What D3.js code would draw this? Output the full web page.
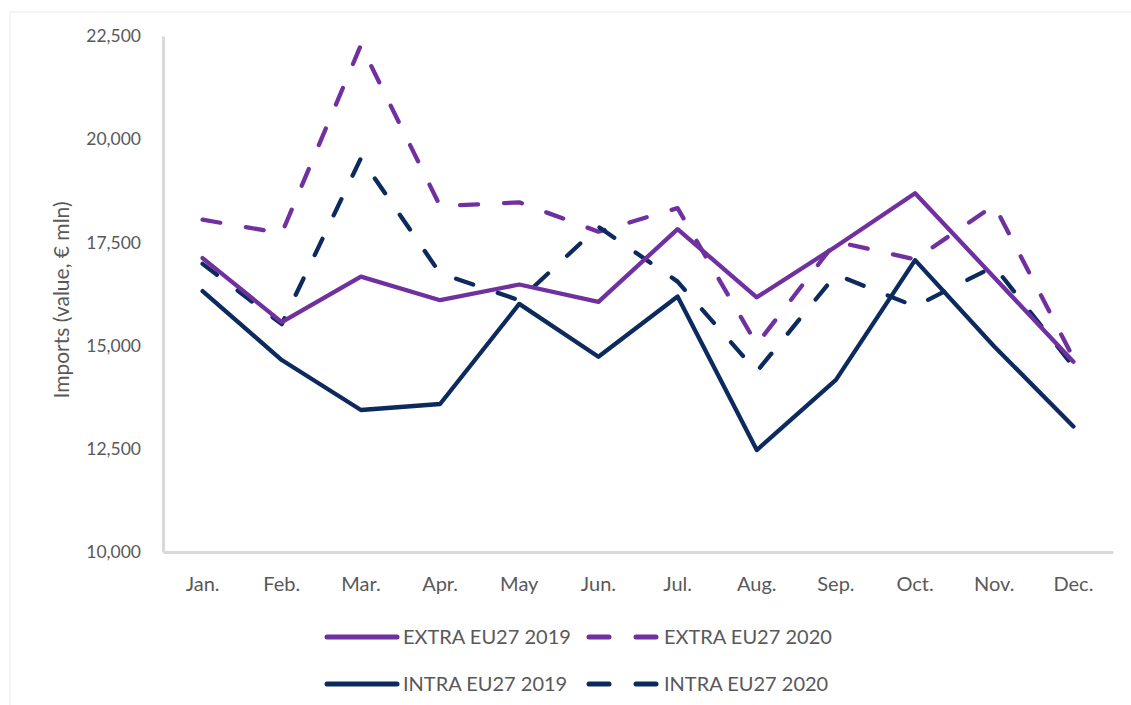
<!DOCTYPE html>
<html>
<head>
<meta charset="utf-8">
<script src="https://cdn.jsdelivr.net/npm/d3@7"></script>
<style>
  body { margin: 0; background: #fff; }
  svg { display: block; }
  text { font-family: Lato, "Open Sans", sans-serif; fill: #595959; }
</style>
</head>
<body>
<div class="chart"></div>
<script>
// months and monthly imports (value, EUR mln)
var months = ["Jan.", "Feb.", "Mar.", "Apr.", "May", "Jun.", "Jul.", "Aug.", "Sep.", "Oct.", "Nov.", "Dec."];
var extra2019 = [17120, 15570, 16670, 16100, 16480, 16060, 17820, 16170, 17400, 18690, 16650, 14610];
var extra2020 = [18050, 17720, 22280, 18380, 18470, 17760, 18330, 15030, 17520, 17090, 18400, 14700];
var intra2019 = [16320, 14650, 13440, 13585, 16010, 14730, 16190, 12470, 14170, 17070, 14980, 13040];
var intra2020 = [16980, 15520, 19540, 16750, 16100, 17880, 16550, 14370, 16720, 15950, 16920, 14490];
var yTicks = [10000, 12500, 15000, 17500, 20000, 22500];

var purple = "#7030a0", navy = "#0c2a5e";

var series = [
    { name: "EXTRA EU27 2019", values: extra2019, color: purple, dash: null },
    { name: "EXTRA EU27 2020", values: extra2020, color: purple, dash: "18,26" },
    { name: "INTRA EU27 2019", values: intra2019, color: navy, dash: null },
    { name: "INTRA EU27 2020", values: intra2020, color: navy, dash: "18,26" }
];

var W = 1131, H = 705;
var margin = { top: 36, right: 18, bottom: 153, left: 163 },
    width = W - margin.left - margin.right,
    height = H - margin.top - margin.bottom;

var root = d3.select(".chart")
    .append("svg")
    .attr("width", W)
    .attr("height", H);

// chart frame (only top/left edges are inside the picture)
root.append("rect")
    .attr("x", 10).attr("y", 12)
    .attr("width", W + 20).attr("height", H + 20)
    .attr("fill", "none")
    .attr("stroke", "#ebebeb")
    .attr("stroke-width", 1);

var svg = root.append("g")
    .attr("transform", "translate(" + margin.left + "," + margin.top + ")");

var x = d3.scaleBand()
    .domain(months)
    .range([0, width])
    .padding(0);

var y = d3.scaleLinear()
    .domain([10000, 22500])
    .range([height, 0]);

// y axis
var yAxis = svg.append("g")
    .call(d3.axisLeft(y).tickValues(yTicks).tickFormat(d3.format(",")).tickSize(0).tickPadding(22));
yAxis.select(".domain").attr("stroke", "#d9d9d9").attr("stroke-width", 3);
yAxis.selectAll("text")
    .style("font-size", "17.5px")
    .style("fill", "#595959");

// x axis
var xAxis = svg.append("g")
    .attr("transform", "translate(0," + height + ")")
    .call(d3.axisBottom(x).tickSize(0).tickPadding(25));
xAxis.select(".domain").attr("stroke", "#d9d9d9").attr("stroke-width", 3);
xAxis.selectAll("text")
    .style("font-size", "20px")
    .style("fill", "#595959");

// y label
svg.append("text")
    .attr("text-anchor", "middle")
    .attr("transform", "translate(" + (62 - margin.left) + "," + (300 - margin.top) + ") rotate(-90)")
    .attr("dy", "0.35em")
    .style("font-size", "21px")
    .text("Imports (value, \u20ac mln)");

var line = d3.line()
    .x(function (d, i) { return x(months[i]) + x.bandwidth() / 2; })
    .y(function (d) { return y(d); });

// draw order: dashed first, solid on top
var order = [series[1], series[3], series[0], series[2]];
svg.selectAll(".series")
    .data(order)
    .enter()
    .append("path")
    .attr("class", "series")
    .attr("d", function (d) { return line(d.values); })
    .attr("fill", "none")
    .attr("stroke", function (d) { return d.color; })
    .attr("stroke-width", 4.3)
    .attr("stroke-linejoin", "round")
    .attr("stroke-linecap", "round")
    .attr("stroke-dasharray", function (d) { return d.dash; });

// legend, 2 x 2
var legend = root.append("g");
var legX = [327, 578], legY = [637, 684];
series.forEach(function (s, i) {
    var col = i % 2, row = Math.floor(i / 2);
    var g = legend.append("g")
        .attr("transform", "translate(" + legX[col] + "," + legY[row] + ")");
    if (s.dash) {
        g.append("line").attr("x1", 11).attr("x2", 31).attr("y1", 0).attr("y2", 0)
            .attr("stroke", s.color).attr("stroke-width", 5).attr("stroke-linecap", "round");
        g.append("line").attr("x1", 58).attr("x2", 78).attr("y1", 0).attr("y2", 0)
            .attr("stroke", s.color).attr("stroke-width", 5).attr("stroke-linecap", "round");
    } else {
        g.append("line").attr("x1", 0).attr("x2", 70).attr("y1", 0).attr("y2", 0)
            .attr("stroke", s.color).attr("stroke-width", 5).attr("stroke-linecap", "round");
    }
    g.append("text")
        .attr("x", s.dash ? 86 : 76)
        .attr("dy", "0.35em")
        .style("font-size", "20px")
        .text(s.name);
});
</script>
</body>
</html>
